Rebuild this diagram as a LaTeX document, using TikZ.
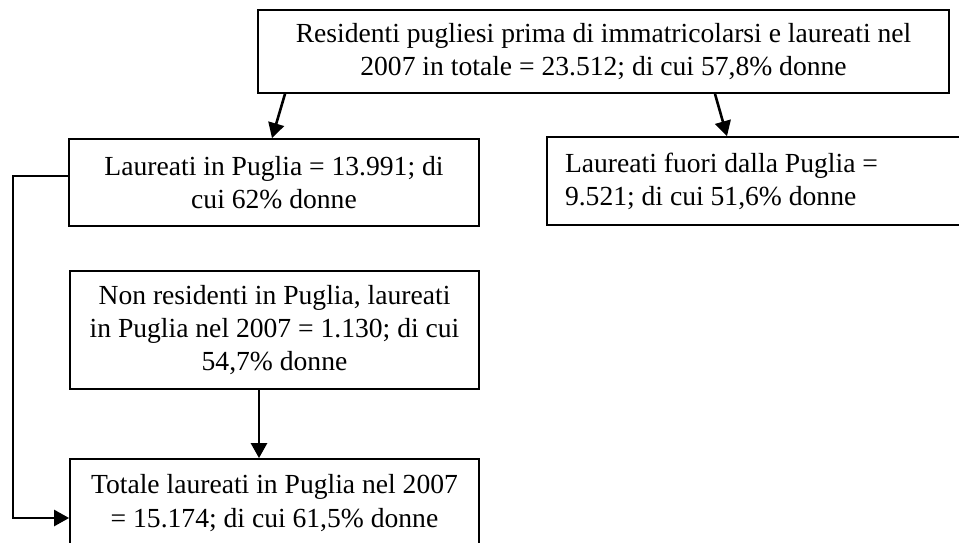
\documentclass[tikz,border=0pt]{standalone}
\usepackage{fontspec}
\setmainfont{Liberation Serif}
\usetikzlibrary{arrows.meta}
\begin{document}
\begin{tikzpicture}[x=0.5pt,y=-0.5pt,
  box/.style={draw=black,line width=0.9pt,rectangle,inner sep=0pt,align=center,
    font=\fontsize{13.8}{16.6}\selectfont},
  arr/.style={line width=1.3pt,-{Triangle[length=7.5pt,width=8pt]}}]
\clip (0,0) rectangle (959,542);
\fill[white] (0,0) rectangle (959,542);
\node[box,minimum width=691pt*0.5,minimum height=83pt*0.5] (top) at (603.5,51.5)
  {Residenti pugliesi prima di immatricolarsi e laureati nel\\2007 in totale = 23.512; di cui 57,8\% donne};
\node[box,minimum width=410pt*0.5,minimum height=87pt*0.5] (l) at (274,182.5)
  {Laureati in Puglia = 13.991; di\\cui 62\% donne};
\node[box,minimum width=433pt*0.5,minimum height=88pt*0.5,text width=397pt*0.5,align=flush left] (r) at (763.5,181)
  {Laureati fuori dalla Puglia =\\9.521; di cui 51,6\% donne};
\node[box,minimum width=409pt*0.5,minimum height=118pt*0.5] (nr) at (274.5,330)
  {Non residenti in Puglia, laureati\\in Puglia nel 2007 = 1.130; di cui\\54,7\% donne};
\node[box,minimum width=409pt*0.5,minimum height=88pt*0.5] (tot) at (274.5,503)
  {Totale laureati in Puglia nel 2007\\= 15.174; di cui 61,5\% donne};
\coordinate (k) at (13,518);
\draw[arr] (top.south -| 285,0) -- (l.north -| 272,0);
\draw[arr] (top.south -| 715,0) -- (r.north -| 727,0);
\draw[arr] (nr.south -| 259,0) -- (tot.north -| 259,0);
\draw[arr] (l.west |- 13,176) -| (k) -- (k -| tot.west);
\end{tikzpicture}
\end{document}
